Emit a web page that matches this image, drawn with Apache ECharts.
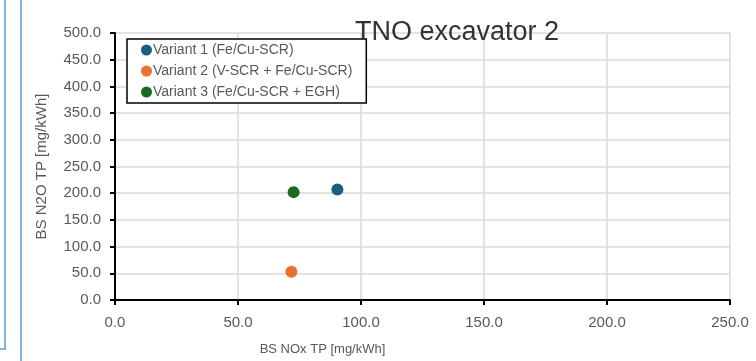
<!DOCTYPE html>
<html>
<head>
<meta charset="utf-8">
<script src="https://cdn.jsdelivr.net/npm/echarts@6/dist/echarts.min.js"></script>
<style>
  html, body { margin: 0; padding: 0; background: #fff; }
  #chart { width: 756px; height: 361px; }
</style>
</head>
<body>
<div id="chart"></div>
<script>
// data
const seriesNames = [
  'Variant 1 (Fe/Cu-SCR)',
  'Variant 2 (V-SCR + Fe/Cu-SCR)',
  'Variant 3 (Fe/Cu-SCR + EGH)',
];
const noxValues = [90.4, 71.7, 72.6];
const n2oValues = [207, 53, 202];
const seriesColors = ['#156082', '#E97132', '#196B24'];

const FONT = "'Liberation Sans', Arial, sans-serif";
const chart = echarts.init(document.getElementById('chart'));

const option = {
  animation: false,
  textStyle: { fontFamily: FONT },
  title: {
    text: 'TNO excavator 2',
    left: 452,
    top: 14,
    textAlign: 'center',
    textStyle: { fontSize: 27, fontWeight: 'normal', color: '#333333', fontFamily: FONT },
  },
  legend: {
    orient: 'vertical',
    left: 127,
    top: 39,
    padding: [4, 14, 4, 14],
    itemGap: 7,
    itemWidth: 11,
    itemHeight: 12,
    icon: 'circle',
    borderColor: '#000',
    borderWidth: 1.5,
    backgroundColor: '#fff',
    data: seriesNames,
    textStyle: { fontSize: 14, color: '#595959', padding: [0, 0, 0, -4] },
  },
  grid: { left: 115, top: 33, right: 26, bottom: 58 },
  xAxis: {
    type: 'value',
    min: 0,
    max: 250,
    interval: 50,
    name: 'BS NOx TP [mg/kWh]',
    nameLocation: 'middle',
    nameGap: 43,
    nameTextStyle: { fontSize: 13, color: '#595959', padding: [0, 200, 0, 0] },
    axisLine: { show: true, lineStyle: { color: '#000', width: 2 } },
    axisTick: { show: true, length: 5, lineStyle: { color: '#000', width: 2 } },
    axisLabel: { fontSize: 15, color: '#595959', margin: 15, formatter: (v) => v.toFixed(1) },
    splitLine: { show: true, lineStyle: { color: '#d9d9d9', width: 1.5 } },
  },
  yAxis: {
    type: 'value',
    min: 0,
    max: 500,
    interval: 50,
    name: 'BS N2O TP [mg/kWh]',
    nameLocation: 'middle',
    nameGap: 66,
    nameTextStyle: { fontSize: 15, color: '#595959' },
    axisLine: { show: true, lineStyle: { color: '#000', width: 2 } },
    axisTick: { show: true, length: 5, lineStyle: { color: '#000', width: 2 } },
    axisLabel: { fontSize: 15, color: '#595959', margin: 14, formatter: (v) => v.toFixed(1) },
    splitLine: { show: true, lineStyle: { color: '#d9d9d9', width: 1.5 } },
  },
  graphic: [
    {
      type: 'polyline',
      shape: { points: [[5, 0], [5, 349], [0, 349]] },
      style: { stroke: '#5b9bd5', lineWidth: 1.5, fill: null },
    },
    {
      type: 'line',
      shape: { x1: 21, y1: 0, x2: 21, y2: 361 },
      style: { stroke: '#5b9bd5', lineWidth: 1.5 },
    },
  ],
  series: seriesNames.map((name, i) => ({
    name,
    type: 'scatter',
    symbol: 'circle',
    symbolSize: 12,
    itemStyle: { color: seriesColors[i], opacity: 1 },
    data: [[noxValues[i], n2oValues[i]]],
  })),
};

chart.setOption(option);
</script>
</body>
</html>
